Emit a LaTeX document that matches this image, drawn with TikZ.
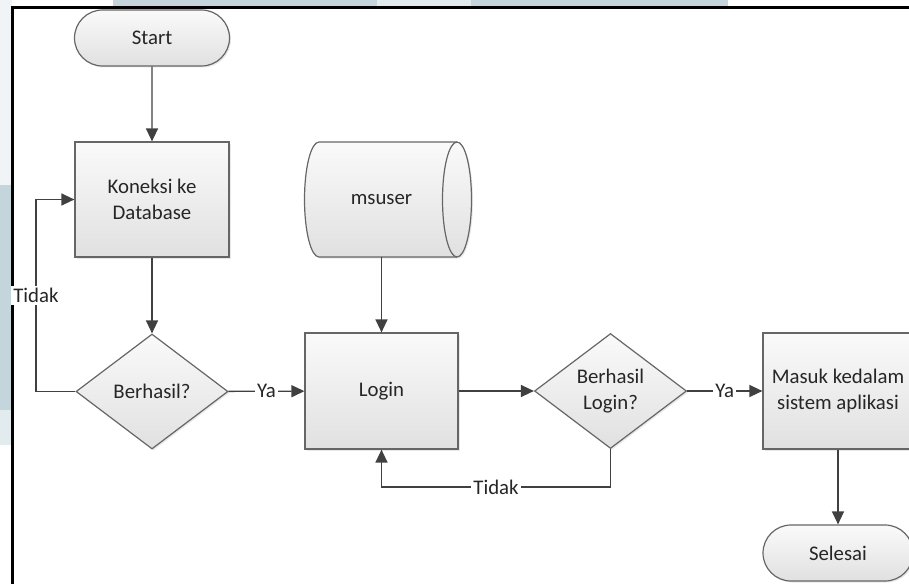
\documentclass[tikz,border=0pt]{standalone}
\usepackage{fontspec}
\setmainfont{Carlito}
\usetikzlibrary{arrows.meta,shapes.geometric,shapes.misc,shadows}
\definecolor{edgegray}{HTML}{666666}
\definecolor{linkgray}{HTML}{404040}
\definecolor{inkgray}{HTML}{262626}
\definecolor{markblue}{HTML}{C4D6DC}
\definecolor{markpale}{HTML}{E2EBEE}
\definecolor{markfaint}{HTML}{F0F4F6}
\begin{document}
\begin{tikzpicture}[x=1pt,y=-1pt,
  every node/.style={font=\fontsize{20.8}{25.5}\selectfont, text=inkgray},
  shapebox/.style={draw=edgegray, line width=1.2pt,
    top color=white!98!black, bottom color=white!88!black,
    drop shadow={opacity=0.18, shadow xshift=1.5pt, shadow yshift=-1.5pt},
    inner sep=0pt, align=center},
  terminal/.style={shapebox, rounded rectangle, minimum width=155pt, minimum height=56pt},
  process/.style={shapebox, rectangle, minimum height=116pt},
  decision/.style={shapebox, diamond, aspect=1.31, minimum width=152pt, minimum height=115pt},
  link/.style={draw=linkgray, line width=1.35pt, -{Triangle[length=13pt,width=12pt]}},
  tag/.style={fill=white, inner sep=2pt, text=inkgray}
]
\useasboundingbox (0,0) rectangle (909,583);
\clip (0,0) rectangle (909,583);

% pale background marks along the top and left edges
\fill[markblue] (113,0) rectangle (377,6.5);
\fill[markpale] (377,0) rectangle (471,6.5);
\fill[markblue] (471,0) rectangle (728,6.5);
\fill[markfaint] (0,0) rectangle (11.5,185);
\fill[markblue] (0,185) rectangle (11.5,410);
\fill[markpale] (0,410) rectangle (11.5,445);

% frame
\draw[line width=2.2pt, black] (12.5,590) -- (12.5,7.5) -- (915,7.5);

% stored data drum
\path[shapebox] (319,142) -- (457,142)
  .. controls (465,142) and (471.5,167.7) .. (471.5,199.5)
  .. controls (471.5,231.3) and (465,257) .. (457,257)
  -- (319,257)
  .. controls (311,257) and (304.5,231.3) .. (304.5,199.5)
  .. controls (304.5,167.7) and (311,142) .. (319,142) -- cycle;
\draw[draw=edgegray, line width=1.2pt] (457,142)
  .. controls (449,142) and (442.5,167.7) .. (442.5,199.5)
  .. controls (442.5,231.3) and (449,257) .. (457,257);

% nodes
\node[terminal] (start) at (152,38) {Start};
\node[process, minimum width=154pt, minimum height=115pt] (conn) at (152,199.5) {Koneksi ke\\Database};
\node[minimum width=153pt, minimum height=115pt, inner sep=0pt] (db) at (381.5,199.5) {msuser};
\node[decision] (ok1) at (152,391.5) {Berhasil?};
\node[process, minimum width=153pt] (login) at (381.5,391) {Login};
\node[decision] (ok2) at (610.5,391) {Berhasil\\Login?};
\node[process, minimum width=150pt] (app) at (838,391) {Masuk kedalam\\sistem aplikasi};
\node[terminal, minimum width=150pt] (finish) at (838,553) {Selesai};

% connectors
\draw[link] (start) -- (conn);
\draw[link] (conn) -- (ok1);
\draw[link] (db) -- (login);
\draw[link] (ok1) -- node[tag]{Ya} (login);
\draw[link] (login) -- (ok2);
\draw[link] (ok2) -- node[tag]{Ya} (app);
\draw[link] (app) -- (finish);
\draw[link] (ok1.west) -- ++(-39.5,0) |- node[tag,pos=0.25]{Tidak} (conn.west);
\draw[link] (ok2.south) -- ++(0,38) -| node[tag,pos=0.25]{Tidak} (login.south);
\end{tikzpicture}
\end{document}
